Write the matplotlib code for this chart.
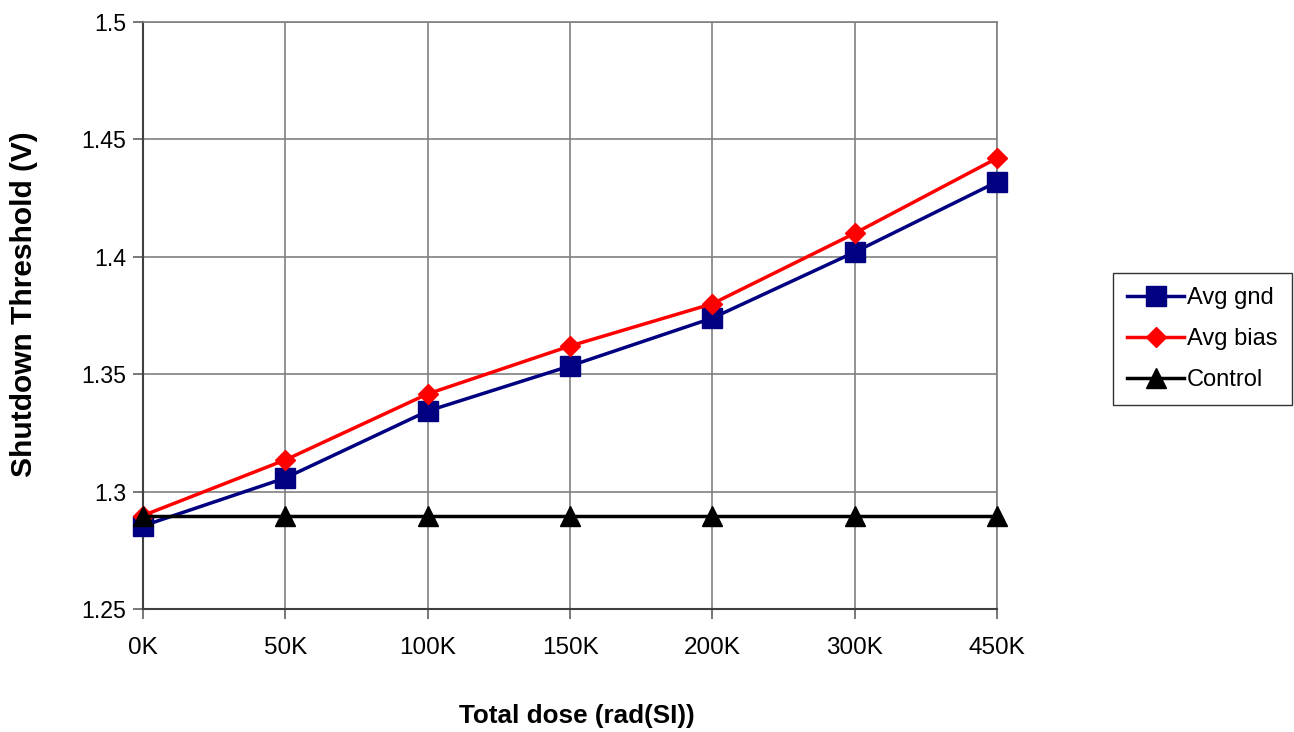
import matplotlib
matplotlib.use("Agg")
import matplotlib.pyplot as plt

plt.rcParams['font.family'] = ['Liberation Sans', 'DejaVu Sans']

doses = ['0K', '50K', '100K', '150K', '200K', '300K', '450K']
avg_gnd = [1.2854, 1.3058, 1.3343, 1.3535, 1.3739, 1.4020, 1.4319]
avg_bias = [1.2898, 1.3135, 1.3416, 1.3620, 1.3800, 1.4100, 1.4420]
control = [1.2896, 1.2896, 1.2896, 1.2896, 1.2896, 1.2896, 1.2896]
yticks = [1.25, 1.3, 1.35, 1.4, 1.45, 1.5]
ytick_labels = ['1.25', '1.3', '1.35', '1.4', '1.45', '1.5']

W, H = 1294, 732
fig = plt.figure(figsize=(W / 100, H / 100), dpi=100)
ax = fig.add_axes([143 / W, 1 - 609 / H, (997 - 143) / W, (609 - 22) / H])

x = list(range(len(doses)))
ax.plot(x, avg_gnd, color='#000080', lw=2.5, marker='s', ms=14, label='Avg gnd',
        zorder=3, clip_on=False)
ax.plot(x, avg_bias, color='#FF0000', lw=2.5, marker='D', ms=10, label='Avg bias',
        zorder=4, clip_on=False)
ax.plot(x, control, color='#000000', lw=2.5, marker='^', ms=14, label='Control',
        zorder=5, clip_on=False)

ax.set_xlim(0, 6)
ax.set_ylim(1.25, 1.5)
ax.set_yticks(yticks)
ax.set_yticklabels(ytick_labels)
ax.set_xticks(x)
ax.set_xticklabels(doses)
ax.tick_params(axis='both', direction='out', length=7, width=1.2, color='#606060')
ax.tick_params(axis='x', labelsize=17.5, pad=13)
ax.tick_params(axis='y', labelsize=16.7, pad=5)
ax.grid(True, color='#808080', lw=1.2)
ax.set_axisbelow(True)
for s in ['top', 'right']:
    ax.spines[s].set_color('#808080')
    ax.spines[s].set_linewidth(1.2)
for s in ['left', 'bottom']:
    ax.spines[s].set_color('#404040')
    ax.spines[s].set_linewidth(1.5)

fig.text(24 / W, 1 - 304 / H, 'Shutdown Threshold (V)', rotation=90, fontsize=21.5,
         fontweight='bold', ha='center', va='center')
fig.text(577 / W, 1 - 716 / H, 'Total dose (rad(SI))', fontsize=18.8,
         fontweight='bold', ha='center', va='center')

leg = ax.legend(loc='upper left', bbox_to_anchor=(1113 / W, 1 - 273 / H),
                bbox_transform=fig.transFigure, fontsize=17,
                frameon=True, fancybox=False, edgecolor='#000000', handlelength=2.4,
                borderpad=0.6, labelspacing=0.8, handletextpad=0.13, borderaxespad=0)
leg.get_frame().set_linewidth(1.0)

fig.savefig('out.png', dpi=100)
